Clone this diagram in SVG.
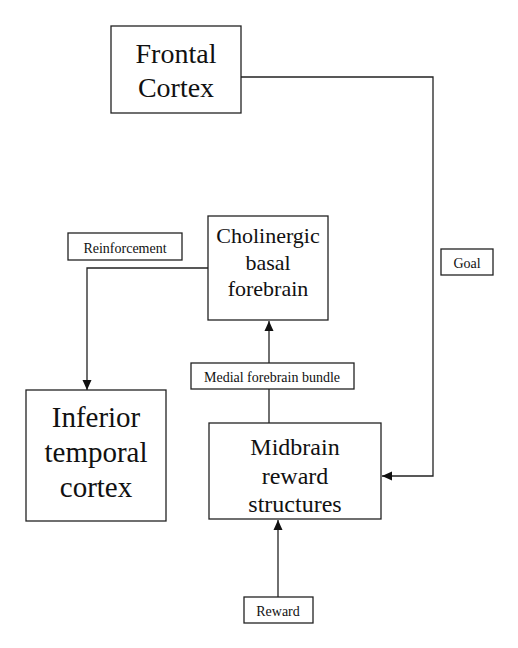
<svg xmlns="http://www.w3.org/2000/svg" width="518" height="648" viewBox="0 0 518 648">
<style>
.box{fill:#fff;stroke:#222;stroke-width:1.3}
.ln{fill:none;stroke:#222;stroke-width:1.3}
text{font-family:"Liberation Serif","Times New Roman",serif;fill:#111;text-anchor:middle}
.s{font-size:14px}
</style>
<defs>
<marker id="ah" viewBox="0 0 10 10" refX="10" refY="5" markerWidth="10" markerHeight="10" markerUnits="userSpaceOnUse" orient="auto">
<path d="M0,0.5 L10,5 L0,9.5 Z" fill="#111"/>
</marker>
</defs>
<rect width="518" height="648" fill="#fff"/>
<g id="connectors">
<path class="ln" d="M241,77 H433 V476 H382" marker-end="url(#ah)"/>
<path class="ln" d="M208,268 H87 V390" marker-end="url(#ah)"/>
<path class="ln" d="M269,363 V321" marker-end="url(#ah)"/>
<path class="ln" d="M269,389 V423"/>
<path class="ln" d="M278,597 V520" marker-end="url(#ah)"/>
</g>
<g id="frontal">
<rect class="box" x="111" y="26" width="130" height="87"/>
<text x="176" y="63" font-size="28">Frontal</text>
<text x="176" y="97" font-size="28">Cortex</text>
</g>
<g id="goal">
<rect class="box" x="441" y="249" width="52" height="26"/>
<text class="s" x="467" y="268">Goal</text>
</g>
<g id="reinforcement">
<rect class="box" x="68" y="233" width="114" height="27"/>
<text class="s" x="125" y="253">Reinforcement</text>
</g>
<g id="cholinergic">
<rect class="box" x="208" y="216" width="120" height="104"/>
<text x="268" y="243" font-size="22">Cholinergic</text>
<text x="268" y="270" font-size="22">basal</text>
<text x="268" y="296" font-size="22">forebrain</text>
</g>
<g id="medial">
<rect class="box" x="191" y="363" width="163" height="26"/>
<text class="s" x="272" y="382">Medial forebrain bundle</text>
</g>
<g id="inferior">
<rect class="box" x="26" y="390" width="140" height="131"/>
<text x="96" y="427" font-size="29">Inferior</text>
<text x="96" y="462" font-size="29">temporal</text>
<text x="96" y="497" font-size="29">cortex</text>
</g>
<g id="midbrain">
<rect class="box" x="209" y="423" width="172" height="96"/>
<text x="295" y="455" font-size="24">Midbrain</text>
<text x="295" y="484" font-size="24">reward</text>
<text x="295" y="512" font-size="24">structures</text>
</g>
<g id="reward">
<rect class="box" x="244" y="597" width="69" height="26"/>
<text class="s" x="278" y="616">Reward</text>
</g>
</svg>
